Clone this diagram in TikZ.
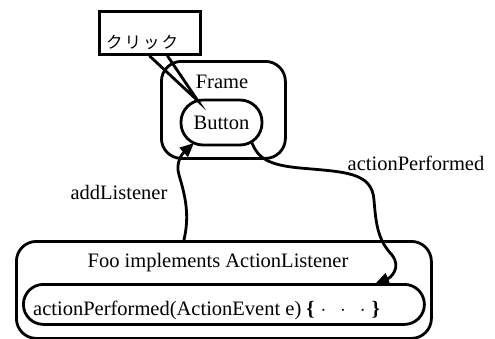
\documentclass[tikz,border=0pt]{standalone}
\usepackage{fontspec}
\setmainfont{Liberation Serif}
\newfontfamily\jpfont{Noto Sans CJK JP}
\usetikzlibrary{arrows.meta}
\begin{document}
\begin{tikzpicture}[x=1pt,y=-1pt,
  every node/.style={font=\fontsize{20.5}{24}\selectfont, inner sep=0pt},
  ln/.style={line width=2.8pt},
  box/.style={ln, draw, rounded corners=20pt},
  arr/.style={ln, -{Triangle[length=14pt,width=12pt]}},
  lbl/.style={anchor=center}]
\useasboundingbox (0,0) rectangle (495,338);
% callout
\node[draw, ln, minimum width=101pt, minimum height=43pt, anchor=north west] (call) at (98,10) {};
\node[font=\jpfont\fontsize{16.5}{20}\selectfont, anchor=base west] (calltxt) at (106,48) {ク\hspace{2pt}リ\hspace{2pt}ッ\hspace{2pt}ク};
% Frame
\node[box, minimum width=124pt, minimum height=97pt, anchor=north west] (frame) at (160,60) {};
\node[lbl] (frametxt) at (222,82) {Frame};
\node[box, rounded corners=22pt, minimum width=81pt, minimum height=45pt] (btn) at (221.5,122.5) {Button};
\coordinate (tip) at (198,101);
\coordinate (cl) at ([xshift=-0.5pt]call.south);
\coordinate (cr) at ([xshift=17.5pt]call.south);
\draw[ln, line join=miter] (cl) -- (tip) -- (cr);
% Foo
\node[box, minimum width=415pt, minimum height=97pt, anchor=north west] (foo) at (15,240) {};
\node[lbl] (footxt) at (218,263) {Foo implements ActionListener};
\node[box, rounded corners=20pt, minimum width=401pt, minimum height=40pt, anchor=north west] (meth) at (22,283) {};
\node[anchor=base west] (methtxt) at (33,315) {actionPerformed(ActionEvent e) \textbf{\{}\hspace{6pt}$\cdot$\hspace{14pt}$\cdot$\hspace{14pt}$\cdot$\hspace{6pt}\textbf{\}}};
% arrows
\coordinate (a0) at ([xshift=-40pt]foo.north);
\draw[arr] (a0) .. controls (190,215) and (185,195) .. (179,175) .. controls (175,162) and (183,153) .. (194,143);
\coordinate (b0) at (252,143);
\coordinate (b1) at (375,284);
\draw[arr] (b0) .. controls (258,158) and (268,165) .. (300,168) .. controls (345,172) and (372,172) .. (374,200) .. controls (376,225) and (378,240) .. (392,255) .. controls (402,268) and (390,278) .. (b1);
\node[lbl] (addl) at (119,192) {addListener};
\node[lbl] (actp) at (416,163) {actionPerformed};
\end{tikzpicture}
\end{document}
